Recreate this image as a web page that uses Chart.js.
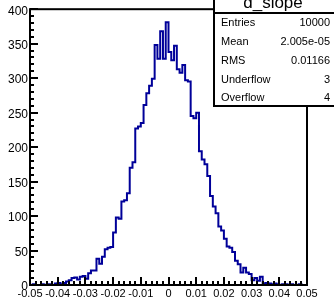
<!DOCTYPE html>
<html>
<head>
<meta charset="utf-8">
<script src="https://cdn.jsdelivr.net/npm/chart.js@4.4.1/dist/chart.umd.min.js"></script>
<style>
  html, body { margin: 0; padding: 0; background: #fff; }
  #wrap { width: 334px; height: 297px; }
</style>
</head>
<body>
<div id="wrap"><canvas id="c" width="334" height="297"></canvas></div>
<script>
const histTitle = 'd_slope'
const xMin = -0.05
const xMax = 0.05
// bin contents, 100 bins of 0.001
const counts = [
  0, 1, 0, 0, 1, 0, 1, 1, 0, 2,
  3, 1, 3, 5, 7, 10, 11, 8, 12, 13,
  9, 17, 21, 21, 38, 31, 41, 52, 54, 55,
  76, 98, 96, 121, 123, 133, 170, 178, 227, 230,
  235, 261, 278, 289, 299, 348, 328, 368, 328, 381,
  338, 326, 347, 313, 308, 319, 297, 295, 245, 242,
  250, 194, 182, 175, 158, 129, 114, 104, 85, 79,
  67, 56, 54, 48, 35, 30, 18, 25, 18, 16,
  7, 10, 6, 12, 2, 3, 2, 1, 2, 1,
  0, 1, 1, 0, 1, 0, 0, 1, 0, 0
]
const xTicks = [-0.05, -0.04, -0.03, -0.02, -0.01, 0, 0.01, 0.02, 0.03, 0.04, 0.05]
const yTicks = [0, 50, 100, 150, 200, 250, 300, 350, 400]
const statNames = ['Entries', 'Mean', 'RMS', 'Underflow', 'Overflow']
const statValues = ['10000', '2.005e-05', '0.01166', '3', '4']

const binW = (xMax - xMin) / counts.length
const points = counts.map((c, i) => ({ x: xMin + i * binW, y: c }))
points.push({ x: xMax, y: counts[counts.length - 1] })

const FONT = 'Liberation Sans, Arial, Helvetica, sans-serif'

// ROOT style frame: inner ticks + stats box
const rootFrame = {
  id: 'rootFrame',
  afterDatasetsDraw (chart) {
    const { ctx, chartArea: a, scales: { x, y } } = chart
    ctx.save()
    ctx.strokeStyle = '#000'
    ctx.lineWidth = 2
    ctx.beginPath()
    for (let v = 0; v <= 400; v += 10) {
      const py = Math.round(y.getPixelForValue(v))
      const len = v % 50 === 0 ? 8 : 4
      ctx.moveTo(a.left, py)
      ctx.lineTo(a.left + len, py)
    }
    for (let k = 0; k <= 50; k++) {
      const px = Math.round(x.getPixelForValue(xMin + k * 0.002))
      const len = k % 5 === 0 ? 8 : 4
      ctx.moveTo(px, a.bottom)
      ctx.lineTo(px, a.bottom - len)
    }
    ctx.stroke()
    ctx.strokeRect(a.left, a.top, a.right - a.left, a.bottom - a.top)

    // stats box
    const bx = 214
    const by = -4
    const bw = 130
    const bh = 110
    ctx.fillStyle = '#fff'
    ctx.fillRect(bx, by, bw, bh)
    ctx.strokeRect(bx, by, bw, bh)
    ctx.beginPath()
    ctx.moveTo(bx, 13)
    ctx.lineTo(bx + bw, 13)
    ctx.stroke()

    ctx.fillStyle = '#000'
    ctx.font = '17px ' + FONT
    ctx.textAlign = 'center'
    ctx.textBaseline = 'alphabetic'
    ctx.fillText(histTitle, 273, 7.5)

    ctx.font = '11px ' + FONT
    ctx.textBaseline = 'middle'
    statNames.forEach((n, i) => {
      const ty = 23.3 + i * 18.75
      ctx.textAlign = 'left'
      ctx.fillText(n, 221, ty)
      ctx.textAlign = 'right'
      ctx.fillText(statValues[i], 330, ty)
    })
    ctx.restore()
  }
}

const config = {
  type: 'line',
  data: {
    datasets: [
      {
        label: histTitle,
        data: points,
        stepped: true,
        borderColor: '#000099',
        borderWidth: 2,
        pointRadius: 0,
        fill: false,
        tension: 0
      }
    ]
  },
  options: {
    responsive: false,
    animation: false,
    layout: { padding: { top: 7, right: 27, left: 0, bottom: 0 } },
    plugins: {
      legend: { display: false },
      tooltip: { enabled: false },
      title: { display: false }
    },
    scales: {
      x: {
        type: 'linear',
        min: xMin,
        max: xMax,
        grid: { display: false, drawTicks: false },
        border: { display: false },
        afterBuildTicks: s => { s.ticks = xTicks.map(v => ({ value: v })) },
        afterFit: s => { s.height = 12 },
        ticks: {
          autoSkip: false,
          maxRotation: 0,
          padding: 2,
          color: '#000',
          font: { family: FONT, size: 11 },
          callback: v => (Math.abs(v) < 1e-9 ? '0' : String(+v.toFixed(2)))
        }
      },
      y: {
        min: 0,
        max: 400,
        grid: { display: false, drawTicks: false },
        border: { display: false },
        afterBuildTicks: s => { s.ticks = yTicks.map(v => ({ value: v })) },
        afterFit: s => { s.width = 30 },
        ticks: {
          padding: 2,
          labelOffset: 2,
          color: '#000',
          font: { family: FONT, size: 12 }
        }
      }
    }
  },
  plugins: [rootFrame]
}

new Chart(document.getElementById('c').getContext('2d'), config)
</script>
</body>
</html>
